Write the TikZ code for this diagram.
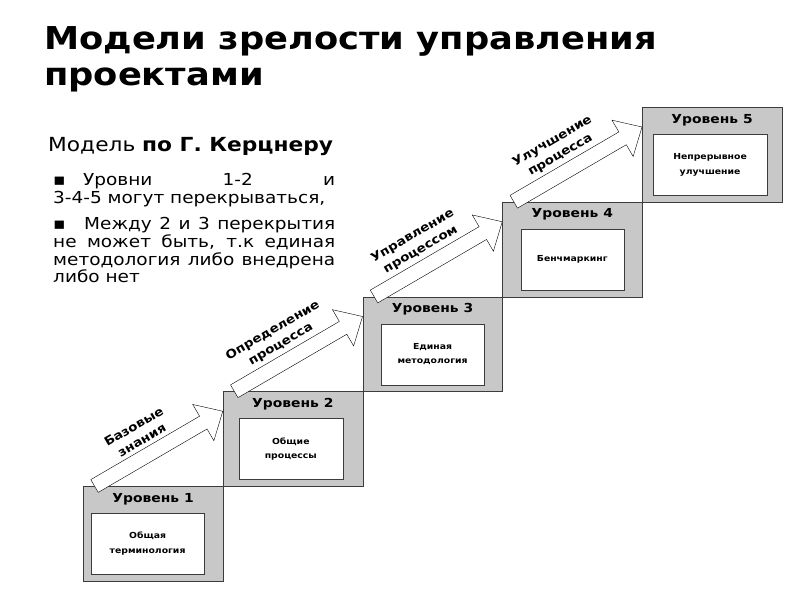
\documentclass[tikz,border=0pt]{standalone}
\usepackage{fontspec}
\setmainfont{DejaVu Sans}[FakeStretch=1.12]
\usetikzlibrary{calc, positioning}
\definecolor{stepgray}{RGB}{200,200,200}
\definecolor{edgegray}{RGB}{60,60,60}
\tikzset{
  stepbox/.style={draw=edgegray, fill=stepgray, minimum width=139.75pt, minimum height=94.75pt,
    anchor=north west, inner sep=0pt},
  inbox/.style={draw=edgegray, fill=white, minimum height=61pt, anchor=north, align=center,
    inner sep=0pt, font=\bfseries\fontsize{8.3}{14.5}\selectfont},
  lvtitle/.style={font=\bfseries\fontsize{12.4}{14}\selectfont},
  arrbody/.style={draw=black, fill=white, line join=miter},
  arrlabel/.style={font=\bfseries\fontsize{12}{16}\selectfont, align=center, sloped, inner sep=0pt},
}
% hollow block arrow from tail #1 to tip #2
\newcommand{\hollowarrow}[2]{%
  \coordinate (#1b) at ($(#2)!22.5pt!(#1)$);
  \draw[arrbody] ($(#1)!7.4pt!90:(#2)$) -- ($(#1b)!7.4pt!90:(#2)$) -- ($(#1b)!21pt!90:(#2)$)
    -- (#2) -- ($(#1b)!21pt!-90:(#2)$) -- ($(#1b)!7.4pt!-90:(#2)$) -- ($(#1)!7.4pt!-90:(#2)$) -- cycle;
}

\begin{document}
\begin{tikzpicture}[x=1pt, y=-1pt]
  \fill[white] (0,0) rectangle (800,600);
  \useasboundingbox (0,0) rectangle (800,600);

  \node[anchor=base west, align=left, inner sep=0pt, font=\bfseries\fontsize{31.5}{36}\selectfont]
    (title) at (44,85) {Модели зрелости управления\\проектами};
  \node[anchor=base west, inner sep=0pt, font=\fontsize{19.4}{22}\selectfont]
    (model) at (48,151) {Модель \textbf{по Г. Керцнеру}};
  \node[anchor=north west, text width=282pt, align=justify, inner sep=0pt,
    font=\fontsize{16.5}{17.7}\selectfont] (notes) at (53,173) {%
    \setlength{\parskip}{9pt}\noindent\makebox[30pt][l]{▪}Уровни 1-2 и\linebreak 3-4-5 могут перекрываться,\par
    \noindent\makebox[31pt][l]{▪}Между 2 и 3 перекрытия\linebreak не может быть, т.к единая\linebreak
    методология либо внедрена\linebreak либо нет\par};

  % levels
  \foreach \i/\xo/\w/\txt in {1/-5.5/113/{Общая\\терминология}, 2/-2/104/{Общие\\процессы},
      3/0/103/{Единая\\методология}, 4/0/103/{Бенчмаркинг}, 5/-2/114/{Непрерывное\\улучшение}} {
    \node[stepbox] (lv\i) at ({83+139.75*(\i-1)}, {486-94.75*(\i-1)}) {};
    \node[lvtitle] (lt\i) at ($(lv\i.north)+(0,13)$) {Уровень \i};
    \node[inbox, minimum width=\w pt] (in\i) at ($(lv\i.north)+(\xo,27)$) {\txt};
  }

  % arrows between levels
  \foreach \i [evaluate=\i as \j using int(\i+1)] in {1,...,4} {
    \coordinate (t\i) at ($(lv\i.north west)+(11.5,0)$);
    \coordinate (h\i) at ($(lv\j.north west)+(0,20)$);
    \hollowarrow{t\i}{h\i}
  }
  \path (t1) -- node[arrlabel, pos=0.43, above=11pt] (ab1) {Базовые\\знания} (h1);
  \path (t2) -- node[arrlabel, pos=0.43, above=11pt] (ab2) {Определение\\процесса} (h2);
  \path (t3) -- node[arrlabel, pos=0.43, above=11pt] (ab3) {Управление\\процессом} (h3);
  \path (t4) -- node[arrlabel, pos=0.43, above=11pt] (ab4) {Улучшение\\процесса} (h4);
\end{tikzpicture}
\end{document}
